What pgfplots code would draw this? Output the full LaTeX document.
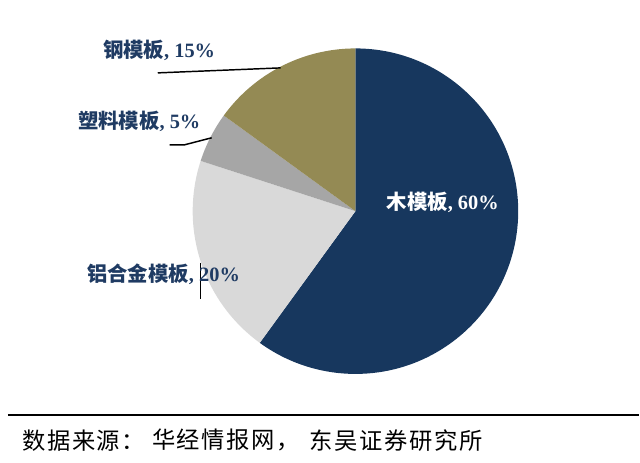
\documentclass[border=0pt]{standalone}
\usepackage{pgfplots}
\pgfplotsset{compat=1.18}
\usepackage{fontspec}
\setmainfont{Liberation Serif}
\newfontfamily\cjk{Noto Sans CJK SC}
\newfontfamily\cjksrc[LetterSpace=7]{Noto Sans CJK SC}
\definecolor{pnavy}{HTML}{17375E}
\definecolor{plgray}{HTML}{D9D9D9}
\definecolor{pmgray}{HTML}{A6A6A6}
\definecolor{polive}{HTML}{948A54}
\definecolor{ltext}{HTML}{1F3B63}
\begin{document}
\begin{tikzpicture}
\begin{axis}[x=0.75pt, y=0.75pt, xmin=0, xmax=640, ymin=0, ymax=463,
  y dir=reverse, hide axis, clip=false]
\path (axis cs:0,0) rectangle (axis cs:640,463);
% pie: shares 60, 20, 5, 15 (percent), clockwise from 12 o'clock
\def\R{122.25pt}
\fill[pnavy]  (axis cs:356,211.5) -- ++(90:\R) arc[start angle=90, delta angle=-60*3.6, radius=\R] -- cycle;
\fill[plgray] (axis cs:356,211.5) -- ++(-126:\R) arc[start angle=-126, delta angle=-20*3.6, radius=\R] -- cycle;
\fill[pmgray] (axis cs:356,211.5) -- ++(-198:\R) arc[start angle=-198, delta angle=-5*3.6, radius=\R] -- cycle;
\fill[polive] (axis cs:356,211.5) -- ++(-216:\R) arc[start angle=-216, delta angle=-15*3.6, radius=\R] -- cycle;
% leader lines
\draw[line width=1.1pt] (axis cs:158,73) -- (axis cs:281,68);
\draw[line width=1.1pt] (axis cs:170,145) -- (axis cs:185,145) -- (axis cs:212,138);
\draw[line width=1.1pt] (axis cs:201,263) -- (axis cs:201,299);
% labels
\tikzset{lab/.style={anchor=west, inner sep=0pt, font=\fontsize{15.3}{18}\selectfont\bfseries, text=ltext}}
\node[lab] at (axis cs:103,50) {{\cjk 钢模板}, 15\%};
\node[lab] at (axis cs:78,122) {{\cjk 塑料模板}, 5\%};
\node[lab] at (axis cs:87,275) {{\cjk 铝合金模板}, 20\%};
\node[lab, text=white] at (axis cs:387,203) {{\cjk 木模板}, 60\%};
% rule and source
\draw[line width=1.5pt] (axis cs:8,416) -- (axis cs:640,416);
\tikzset{src/.style={anchor=west, inner sep=0pt, font=\fontsize{17.5}{20}\selectfont\cjksrc, text=black}}
\node[src] at (axis cs:22,441) {数据来源：};
\node[src] at (axis cs:152,441) {华经情报网，};
\node[src] at (axis cs:310,441) {东吴证券研究所};
\end{axis}
\end{tikzpicture}
\end{document}
